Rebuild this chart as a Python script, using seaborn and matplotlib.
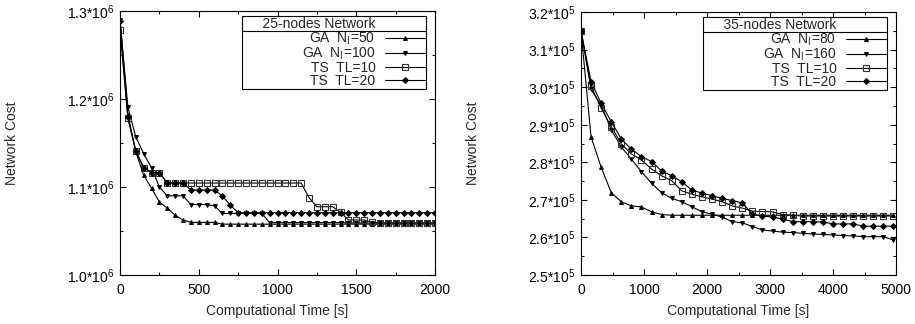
import numpy as np
import pandas as pd
import matplotlib
matplotlib.use('Agg')
import matplotlib.pyplot as plt
from matplotlib.ticker import MultipleLocator, FuncFormatter
from matplotlib.lines import Line2D
import seaborn as sns

sns.set_style("ticks")
plt.rcParams['font.family'] = ['Liberation Sans', 'DejaVu Sans']
plt.rcParams['mathtext.fontset'] = 'custom'
plt.rcParams['mathtext.rm'] = 'Liberation Sans'
plt.rcParams['mathtext.it'] = 'Liberation Sans:italic'

# ---------------- data ----------------
# 25-nodes network, time step 50 s, cost in units of 10^6
t25 = list(range(0, 2001, 50))
ga50 = [1.290, 1.182, 1.140, 1.1135, 1.0985, 1.083, 1.076, 1.068, 1.0625,
        1.0598, 1.0598, 1.0598, 1.0598] + [1.0578] * 28
ga100 = [1.290, 1.191, 1.157, 1.138, 1.122, 1.100, 1.090, 1.090, 1.090,
         1.080, 1.080, 1.080, 1.0785, 1.070, 1.070, 1.070, 1.070, 1.070,
         1.070] + [1.0595] * 10 + [1.0590] * 12
ts10_25 = [1.278, 1.178, 1.141, 1.122, 1.1163, 1.1163] + [1.1045] * 18 + \
          [1.088, 1.0776, 1.0776, 1.0776, 1.0712, 1.0625, 1.0625, 1.0625,
           1.0599] + [1.0588] * 8
ts20_25 = [1.289, 1.180, 1.141, 1.122, 1.1163, 1.1163, 1.1045, 1.1045,
           1.1045, 1.0966, 1.0966, 1.0966, 1.0966, 1.0898, 1.0795] + [1.0708] * 26

# 35-nodes network, time step 160 s, cost in units of 10^5
t35 = list(range(0, 4961, 160))
ga80 = [3.150, 2.867, 2.787, 2.719, 2.695, 2.684, 2.681, 2.668, 2.661] + [2.659] * 23
ga160 = [3.150, 2.994, 2.952, 2.886, 2.841, 2.808, 2.775, 2.744, 2.719, 2.704,
         2.695, 2.682, 2.668, 2.662, 2.654, 2.642, 2.639, 2.629, 2.620, 2.617,
         2.614, 2.613, 2.611, 2.609, 2.608, 2.6065, 2.605, 2.604, 2.602, 2.602,
         2.602, 2.593]
ts10_35 = [3.150, 3.003, 2.944, 2.895, 2.849, 2.822, 2.806, 2.782, 2.764, 2.751,
           2.724, 2.715, 2.708, 2.702, 2.695, 2.684, 2.678, 2.670, 2.669, 2.668,
           2.661, 2.659] + [2.657] * 10
ts20_35 = [3.150, 3.0145, 2.957, 2.908, 2.862, 2.835, 2.815, 2.802, 2.777, 2.764,
           2.748, 2.726, 2.718, 2.711, 2.704, 2.698, 2.692, 2.662, 2.657, 2.654,
           2.649, 2.642, 2.642, 2.642, 2.641, 2.636, 2.636, 2.636, 2.630, 2.630,
           2.630, 2.630]

labels25 = [r'GA  N$_\mathrm{I}$=50', r'GA  N$_\mathrm{I}$=100', 'TS  TL=10', 'TS  TL=20']
labels35 = [r'GA  N$_\mathrm{I}$=80', r'GA  N$_\mathrm{I}$=160', 'TS  TL=10', 'TS  TL=20']

styles = [dict(marker='^', markersize=2.8, markerfacecolor='k', markeredgecolor='k'),
          dict(marker='v', markersize=2.8, markerfacecolor='k', markeredgecolor='k'),
          dict(marker='s', markersize=3.8, markerfacecolor='none', markeredgecolor='#333333',
               markeredgewidth=0.8),
          dict(marker='D', markersize=3.0, markerfacecolor='k', markeredgecolor='k')]

FS = 10

fig = plt.figure(figsize=(9.15, 3.24), dpi=100)
ax1 = fig.add_axes([120 / 915, 49 / 324, 315 / 915, 264 / 324])
ax2 = fig.add_axes([581 / 915, 49 / 324, 315 / 915, 263 / 324])


def draw_panel(ax, t, series, labels, scale, title, xmax, xmaj, xmin, ylo, yhi, ymaj, exp):
    for vals, lab, st in zip(series, labels, styles):
        df = pd.DataFrame({'t': t, 'cost': np.array(vals) * scale})
        sns.lineplot(data=df, x='t', y='cost', ax=ax, color='k', lw=0.8,
                     label=lab, **st)
    ax.set_xlim(0, xmax)
    ax.set_ylim(ylo * scale, yhi * scale)
    ax.xaxis.set_major_locator(MultipleLocator(xmaj))
    ax.xaxis.set_minor_locator(MultipleLocator(xmin))
    ax.yaxis.set_major_locator(MultipleLocator(ymaj * scale))
    ax.yaxis.set_minor_locator(MultipleLocator(ymaj * scale / 2))
    ax.yaxis.set_major_formatter(FuncFormatter(
        lambda v, p: f'{v / scale:.1f}*10$^{{{exp}}}$'))
    ax.tick_params(which='both', direction='in', top=True, right=True,
                   labelsize=FS, width=0.8, colors='k')
    ax.tick_params(which='major', length=4, pad=4)
    ax.tick_params(axis='x', which='major', pad=5.5)
    ax.tick_params(which='minor', length=2)
    for s in ax.spines.values():
        s.set_linewidth(0.8)
        s.set_color('k')
    ax.set_xlabel('Computational Time [s]', fontsize=FS)
    ax.set_ylabel('Network Cost', fontsize=FS)
    ax.xaxis.set_label_coords(0.5, -0.11)
    ax.yaxis.set_label_coords(-0.322, 0.5)
    # gnuplot-like key: text right-aligned, title aligned with the labels
    leg = ax.legend(title='     ' + title + ' ' * 13, loc='upper right',
                    bbox_to_anchor=(0.972, 0.981), alignment='right',
                    fontsize=FS, title_fontsize=FS, markerfirst=False,
                    frameon=True, fancybox=False, shadow=False, framealpha=1,
                    edgecolor='k', handlelength=2.9, handletextpad=0.7,
                    labelspacing=-0.08, borderpad=0.05, borderaxespad=0)
    leg.get_frame().set_linewidth(0.8)
    leg._legend_box.sep = 0
    return leg


leg1 = draw_panel(ax1, t25, [ga50, ga100, ts10_25, ts20_25], labels25, 1e6,
                  '25-nodes Network', 2000, 500, 250, 1.0, 1.3, 0.1, 6)
leg2 = draw_panel(ax2, t35, [ga80, ga160, ts10_35, ts20_35], labels35, 1e5,
                  '35-nodes Network', 5000, 1000, 500, 2.5, 3.2, 0.1, 5)

# separator line between the legend title and the entries
fig.canvas.draw()
inv = fig.transFigure.inverted()
for leg in (leg1, leg2):
    fb = leg.get_frame().get_window_extent()
    tb = leg.get_title().get_window_extent()
    lb = leg.get_texts()[0].get_window_extent()
    y = 0.5 * (tb.y0 + lb.y1)
    (x0, yy), (x1, _) = inv.transform([(fb.x0, y), (fb.x1, y)])
    fig.add_artist(Line2D([x0, x1], [yy, yy], color='k', lw=0.8,
                          transform=fig.transFigure))

fig.savefig('out.png', dpi=100)
